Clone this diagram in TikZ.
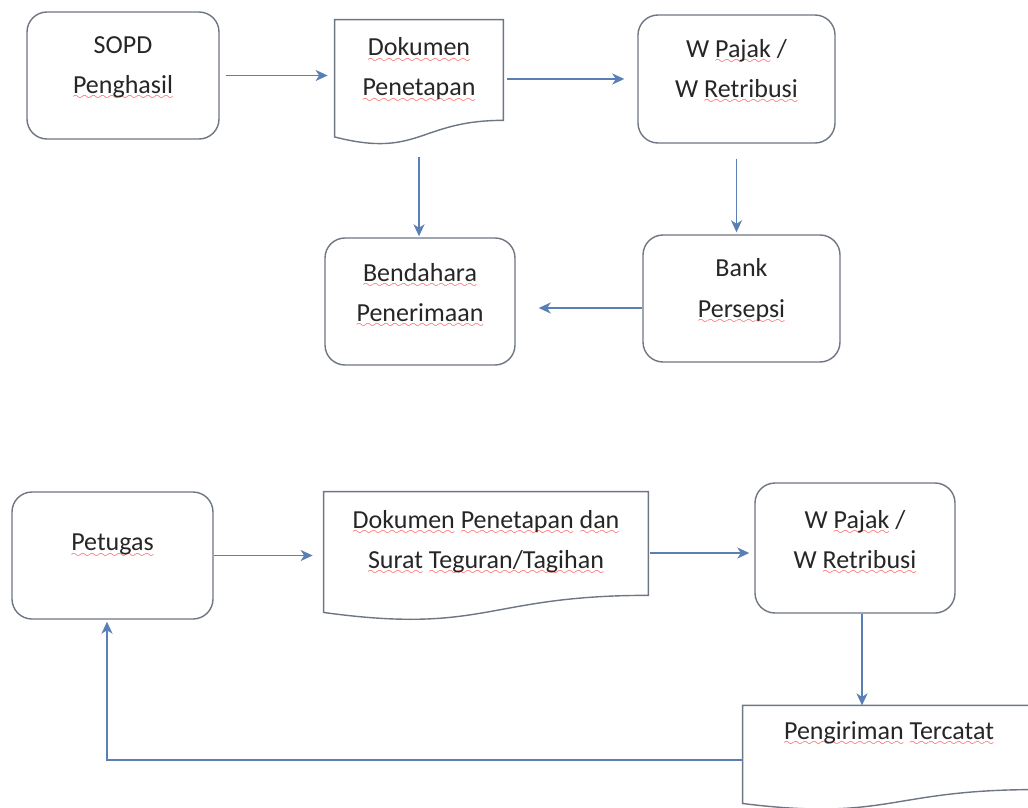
\documentclass[tikz,border=0pt]{standalone}
\usepackage{fontspec}
\setmainfont{Carlito}
\usepackage{tikz}
\usetikzlibrary{arrows.meta, calc}
\definecolor{boxline}{RGB}{110,118,130}
\definecolor{flow}{RGB}{88,128,180}
% red wavy underline under a word
\font\wavefont=lasy6
\newcommand{\typo}[1]{\setbox0\hbox{#1}\leavevmode\rlap{\lower3.5pt\hbox to \wd0{\color{red!80}\xleaders\hbox{\wavefont\char58}\hfill}}\box0\relax}
\tikzset{
    procbox/.style={
        rectangle, rounded corners=0.4cm, draw=boxline, line width=0.8pt,
        minimum height=2.54cm, align=center, text depth=0.42cm,
        font=\fontsize{14.8}{22.8}\selectfont, text=black!85
    },
    docbox/.style={
        rectangle, draw=none, inner sep=0pt, align=center,
        font=\fontsize{14.8}{22.8}\selectfont, text=black!85
    },
    docline/.style={draw=boxline, line width=0.8pt},
    flowline/.style={draw=flow, line width=0.9pt, -{Stealth[length=2.4mm, width=2.2mm, inset=0.7mm]}}
}
% outline of a document shape round a docbox node
\newcommand{\docoutline}[1]{%
  \draw[docline] (#1.north west) -- (#1.north east) -- (#1.south east)
    .. controls (#1.south) and ($(#1.north)!1.38!(#1.south)$) .. ($(#1.north west)!1.165!(#1.south west)$) -- cycle;}
\begin{document}
\begin{tikzpicture}
\useasboundingbox (0,0) rectangle (20.56,-16.14);

% Upper flow
\node[procbox, minimum width=3.84cm] (sopd) at (2.46,-1.51) {SOPD\\ \typo{Penghasil}};
\node[docbox, minimum width=3.36cm, minimum height=2.0cm] (dok) at (8.38,-1.40) {\typo{Dokumen}\\ \typo{Penetapan}};
\docoutline{dok}
\node[procbox, minimum width=3.94cm, minimum height=2.56cm] (wp) at (14.73,-1.58) {W \typo{Pajak} /\\ W \typo{Retribusi}};
\node[procbox, minimum width=3.94cm] (bank) at (14.83,-5.97) {Bank\\ \typo{Persepsi}};
\node[procbox, minimum width=3.80cm, text depth=0.36cm] (bend) at (8.40,-6.03) {\typo{Bendahara}\\ \typo{Penerimaan}};

\draw[flowline, shorten <=0.12cm, shorten >=0.14cm] (sopd.east) -- (sopd.east -| dok.west);
\draw[flowline, shorten <=0.08cm, shorten >=0.26cm] (dok.east |- wp.west) -- (wp.west);
\draw[flowline, shorten >=0.02cm] ([yshift=-0.74cm]dok.south) -- (dok.south |- bend.north);
\draw[flowline, shorten <=0.3cm, shorten >=0.04cm] (wp.south) -- (wp.south |- bank.north);
\draw[flowline, shorten >=0.46cm] ([yshift=-0.19cm]bank.west) -- ([yshift=-0.19cm]bank.west -| bend.east);

% Lower flow
\node[procbox, minimum width=4.02cm, text depth=0.52cm] (pet) at (2.25,-11.11) {\typo{Petugas}};
\node[docbox, minimum width=6.48cm, minimum height=2.06cm, text depth=0.17cm] (dok2) at (9.72,-10.87) {\typo{Dokumen} \typo{Penetapan} \typo{dan}\\ \typo{Surat} \typo{Teguran/Tagihan}};
\docoutline{dok2}
\node[procbox, minimum width=4.0cm, minimum height=2.6cm, text depth=0.36cm] (wp2) at (17.10,-10.96) {W \typo{Pajak} /\\ W \typo{Retribusi}};
\node[docbox, minimum width=5.84cm, minimum height=1.67cm, text depth=0.68cm] (kirim) at (17.78,-14.95) {\typo{Pengiriman} \typo{Tercatat}};
\docoutline{kirim}

\draw[flowline, shorten >=0.22cm] (pet.east) -- (pet.east -| dok2.west);
\draw[flowline, shorten <=0.04cm, shorten >=0.1cm] ([yshift=-0.1cm]wp2.west -| dok2.east) -- ([yshift=-0.1cm]wp2.west);
\draw[flowline] ([xshift=0.14cm]wp2.south) -- ([xshift=0.14cm]wp2.south |- kirim.north);
\draw[flowline, shorten >=0.04cm] ([yshift=-0.25cm]kirim.west) -| ([xshift=-0.11cm]pet.south);

\end{tikzpicture}
\end{document}
